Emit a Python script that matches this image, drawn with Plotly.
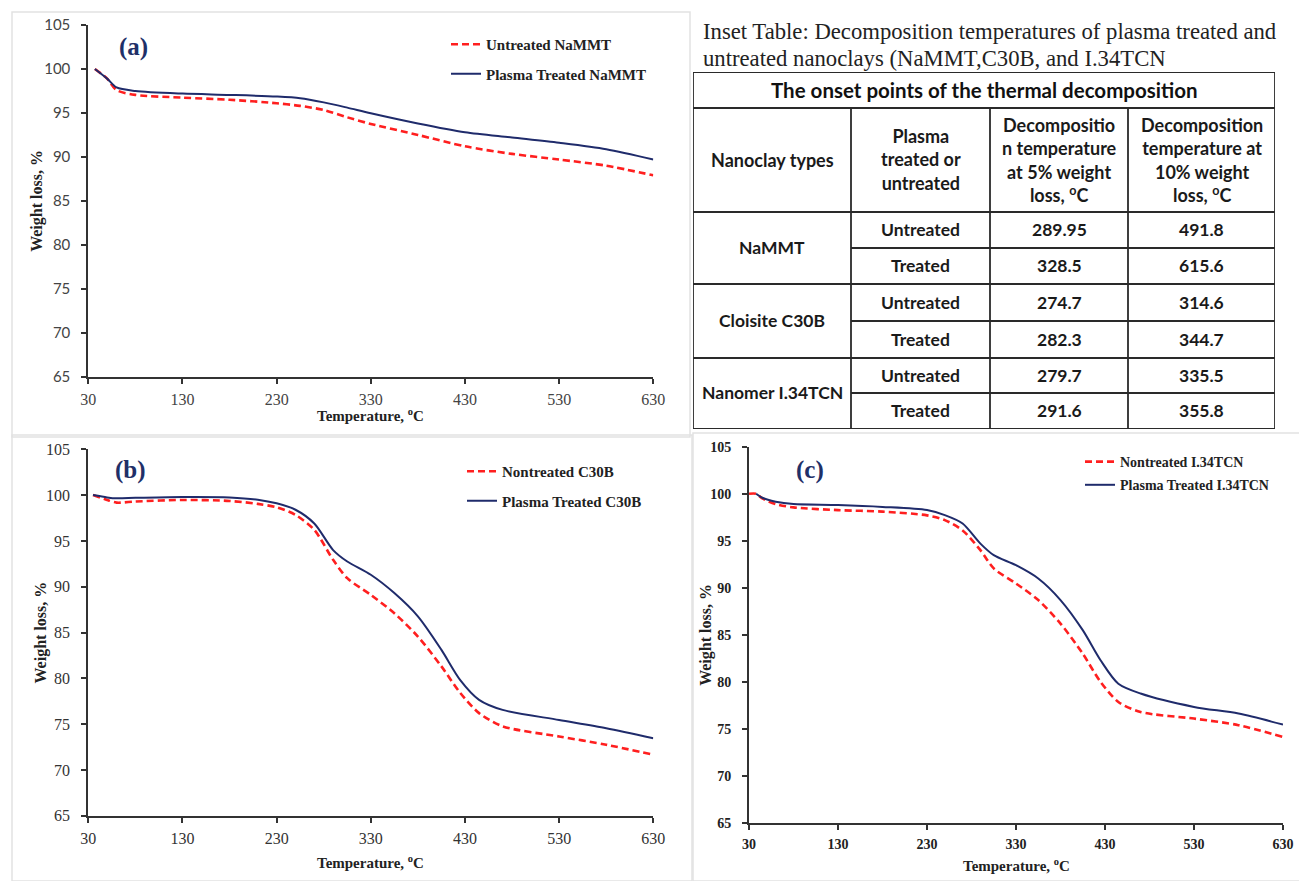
import plotly.graph_objects as go

# page offset (browser body margin) compensation
OFF = 8
W, H = 1307 - OFF, 881 - OFF

# ---------------- data ----------------
temp_a = [37, 50, 60, 80, 130, 180, 230, 255, 280, 305, 330, 380, 430, 480, 530, 580, 630]
untreated_nammt = [100, 98.9, 97.6, 97.05, 96.74, 96.5, 96.1, 95.8, 95.34, 94.5, 93.75, 92.5, 91.2, 90.34, 89.7, 89.0, 87.9]
treated_nammt = [100, 98.9, 97.9, 97.5, 97.2, 97.05, 96.86, 96.67, 96.2, 95.6, 94.96, 93.8, 92.8, 92.2, 91.6, 90.87, 89.7]

temp_b = [35, 50, 60, 80, 130, 180, 210, 230, 250, 270, 290, 305, 330, 355, 380, 405, 425, 445, 470, 530, 580, 630]
untreated_c30b = [100, 99.47, 99.18, 99.3, 99.47, 99.36, 99.04, 98.67, 97.84, 96.2, 92.93, 90.93, 89.1, 87.1, 84.56, 81.3, 78.4, 76.2, 74.76, 73.65, 72.75, 71.65]
treated_c30b = [100, 99.75, 99.65, 99.7, 99.8, 99.75, 99.5, 99.1, 98.4, 96.9, 94.0, 92.75, 91.3, 89.3, 86.76, 83.1, 79.8, 77.65, 76.55, 75.45, 74.55, 73.45]

temp_c_untreated = [30, 38, 45, 60, 80, 130, 180, 230, 250, 270, 290, 305, 330, 355, 380, 405, 425, 445, 470, 530, 580, 630]
untreated_i34 = [100, 100, 99.5, 98.9, 98.55, 98.26, 98.1, 97.7, 97.2, 96.1, 94.0, 92.06, 90.46, 88.7, 86.2, 83.0, 80.0, 77.87, 76.8, 76.1, 75.4, 74.15]
temp_c_treated = [38, 45, 60, 80, 130, 180, 230, 250, 270, 290, 305, 330, 355, 380, 405, 425, 445, 470, 530, 580, 630]
treated_i34 = [100, 99.57, 99.15, 98.9, 98.8, 98.6, 98.26, 97.73, 96.84, 94.7, 93.47, 92.4, 90.99, 88.7, 85.5, 82.3, 79.8, 78.76, 77.34, 76.63, 75.46]

x_ticks = [30, 130, 230, 330, 430, 530, 630]
y_ticks = [65, 70, 75, 80, 85, 90, 95, 100, 105]

# table data
table_title = "The onset points of the thermal decomposition"
header_cells = ["Nanoclay types", "Plasma<br>treated or<br>untreated",
                "Decompositio<br>n temperature<br>at 5% weight<br>loss, <sup>o</sup>C",
                "Decomposition<br>temperature at<br>10% weight<br>loss, <sup>o</sup>C"]
nanoclay_types = ["NaMMT", "Cloisite C30B", "Nanomer I.34TCN"]
treatment = ["Untreated", "Treated", "Untreated", "Treated", "Untreated", "Treated"]
t5_loss = ["289.95", "328.5", "274.7", "282.3", "279.7", "291.6"]
t10_loss = ["491.8", "615.6", "314.6", "344.7", "335.5", "355.8"]

# ---------------- styles ----------------
RED = "#FF1F1F"
NAVY = "#1F2B6B"
AXC = "#333333"
SERIF = "Liberation Serif"
SANS = "Lato"


def px_x(p):
    return (p - OFF) / W


def px_y(p):
    return 1 - (p - OFF) / H


fig = go.Figure()

panels = {
    "a": dict(xa="x", ya="y", x0=88.3, x1=653.3, y0=25, y1=376.7, leg="legend"),
    "b": dict(xa="x2", ya="y2", x0=88.3, x1=653.3, y0=449.3, y1=815.7, leg="legend2"),
    "c": dict(xa="x3", ya="y3", x0=749, x1=1283, y0=446.7, y1=823, leg="legend3"),
}

series = [
    ("a", temp_a, untreated_nammt, "Untreated NaMMT", True),
    ("a", temp_a, treated_nammt, "Plasma Treated NaMMT", False),
    ("b", temp_b, untreated_c30b, "Nontreated C30B", True),
    ("b", temp_b, treated_c30b, "Plasma Treated C30B", False),
    ("c", temp_c_untreated, untreated_i34, "Nontreated I.34TCN", True),
    ("c", temp_c_treated, treated_i34, "Plasma Treated I.34TCN", False),
]
for key, xs, ys, name, dashed in series:
    p = panels[key]
    fig.add_trace(go.Scatter(
        x=xs, y=ys, mode="lines", name="<b>" + name + "</b>",
        xaxis=p["xa"], yaxis=p["ya"], legend=p["leg"], legendgroup=name,
        line=dict(color=RED if dashed else NAVY, width=2.6 if dashed else 2,
                  dash="7px,4px" if dashed else "solid", shape="spline", smoothing=0.8),
        showlegend=True,
    ))

layout = dict(
    width=W, height=H, margin=dict(l=0, r=0, t=0, b=0, pad=0, autoexpand=False),
    autosize=False,
    paper_bgcolor="white", plot_bgcolor="white", showlegend=True,
)

tick_styles = {
    "a": dict(xfont=dict(family=SERIF, size=16, color="#444"), yfont=dict(family=SANS, size=15, color="#444")),
    "b": dict(xfont=dict(family=SERIF, size=16, color="#333"), yfont=dict(family=SERIF, size=16, color="#333")),
    "c": dict(xfont=dict(family=SERIF, size=14, color="#222", weight="bold"),
              yfont=dict(family=SERIF, size=14, color="#222", weight="bold")),
}

for key, p in panels.items():
    xn = "xaxis" if p["xa"] == "x" else "xaxis" + p["xa"][1:]
    yn = "yaxis" if p["ya"] == "y" else "yaxis" + p["ya"][1:]
    layout[xn] = dict(
        domain=[px_x(p["x0"]), px_x(p["x1"])], anchor=p["ya"], range=[30, 630],
        tickvals=x_ticks, ticks="outside", ticklen=5, tickwidth=2, tickcolor=AXC,
        showline=True, linecolor=AXC, linewidth=2, showgrid=False, zeroline=False,
        tickfont=tick_styles[key]["xfont"], ticklabelstandoff=2, automargin=False,
    )
    layout[yn] = dict(
        domain=[px_y(p["y1"]), px_y(p["y0"])], anchor=p["xa"], range=[65, 105],
        tickvals=y_ticks, ticks="outside", ticklen=5, tickwidth=2, tickcolor=AXC,
        showline=True, linecolor=AXC, linewidth=2, showgrid=False, zeroline=False,
        tickfont=tick_styles[key]["yfont"], ticklabelstandoff=8, automargin=False,
    )

legend_cfg = {"legend": (446, 28, 15, 7), "legend2": (462, 455, 15, 7), "legend3": (1080, 446, 14, 2)}
for lname, (lx, ly, fs, gap) in legend_cfg.items():
    layout[lname] = dict(
        x=px_x(lx), y=px_y(ly), xanchor="left", yanchor="top",
        bgcolor="rgba(0,0,0,0)", borderwidth=0, tracegroupgap=gap,
        font=dict(family=SERIF, size=fs, color="#222"), itemwidth=30,
    )

# ---------------- table (own axes) ----------------
col_widths = [158, 139, 138, 147]
row_heights = [36, 104, 36, 36, 37, 37, 35, 36]
tbl_x0, tbl_y0 = 693, 72
tot_w, tot_h = sum(col_widths), sum(row_heights)
layout["xaxis4"] = dict(domain=[px_x(tbl_x0), px_x(tbl_x0 + tot_w)], range=[0, tot_w],
                        visible=False, anchor="y4", fixedrange=True)
layout["yaxis4"] = dict(domain=[px_y(tbl_y0 + tot_h), px_y(tbl_y0)], range=[tot_h, 0],
                        visible=False, anchor="x4", fixedrange=True)

col_edges = [0]
for w in col_widths:
    col_edges.append(col_edges[-1] + w)
row_edges = [0]
for h in row_heights:
    row_edges.append(row_edges[-1] + h)

shapes = []
LW = 1.8
LC = "#2a2a2a"
shapes.append(dict(type="rect", xref="x4", yref="y4", x0=0, x1=tot_w, y0=0, y1=tot_h,
                   line=dict(color=LC, width=LW)))
for i, yv in enumerate(row_edges[1:-1], start=1):
    full = i in (1, 2, 4, 6)
    shapes.append(dict(type="line", xref="x4", yref="y4", x0=0 if full else col_edges[1], x1=tot_w,
                       y0=yv, y1=yv, line=dict(color=LC, width=LW)))
for xv in col_edges[1:-1]:
    shapes.append(dict(type="line", xref="x4", yref="y4", x0=xv, x1=xv, y0=row_edges[1], y1=tot_h,
                       line=dict(color=LC, width=LW)))

annotations = []
TF = dict(family=SANS, size=17.5, color="#1a1a1a", weight="bold")
annotations.append(dict(xref="x4", yref="y4", x=tot_w / 2, y=row_heights[0] / 2, text=table_title,
                        xanchor="center", yanchor="middle",
                        showarrow=False, font=dict(family=SANS, size=20.5, color="#111", weight="bold")))
for j, txt in enumerate(header_cells):
    annotations.append(dict(xref="x4", yref="y4", x=(col_edges[j] + col_edges[j + 1]) / 2,
                            y=(row_edges[1] + row_edges[2]) / 2, text=txt, showarrow=False,
                            font=dict(family=SANS, size=18, color="#1a1a1a", weight="bold"),
                            xanchor="center", yanchor="middle"))
for g, name in enumerate(nanoclay_types):
    annotations.append(dict(xref="x4", yref="y4", x=(col_edges[0] + col_edges[1]) / 2,
                            y=row_edges[2 + 2 * g + 1], text=name, showarrow=False, font=TF,
                            xanchor="center", yanchor="middle"))
for r in range(6):
    yc = (row_edges[2 + r] + row_edges[3 + r]) / 2
    for j, vals in ((1, treatment), (2, t5_loss), (3, t10_loss)):
        annotations.append(dict(xref="x4", yref="y4", x=(col_edges[j] + col_edges[j + 1]) / 2,
                                y=yc, text=vals[r], showarrow=False, font=TF,
                                xanchor="center", yanchor="middle"))

# inset title
annotations.append(dict(xref="paper", yref="paper", x=px_x(701), y=px_y(31), xanchor="left", yanchor="middle",
                        text="Inset Table: Decomposition temperatures of plasma treated and", showarrow=False,
                        font=dict(family=SERIF, size=22.7, color="#222")))
annotations.append(dict(xref="paper", yref="paper", x=px_x(701), y=px_y(58), xanchor="left", yanchor="middle",
                        text="untreated nanoclays (NaMMT,C30B, and I.34TCN", showarrow=False,
                        font=dict(family=SERIF, size=22.7, color="#222")))

# panel letters
for lbl, (lx, ly) in {"(a)": (133, 47), "(b)": (130, 470), "(c)": (810, 470)}.items():
    annotations.append(dict(xref="paper", yref="paper", x=px_x(lx), y=px_y(ly), text="<b>" + lbl + "</b>",
                            xanchor="center", yanchor="middle",
                            showarrow=False, font=dict(family=SERIF, size=25, color="#1F3068")))

# axis titles
for key, p in panels.items():
    cx = (p["x0"] + p["x1"]) / 2
    cy = (p["y0"] + p["y1"]) / 2
    xt_y = {"a": 415, "b": 862, "c": 865}[key]
    yt_x = {"a": 37, "b": 40, "c": 706}[key]
    annotations.append(dict(xref="paper", yref="paper", x=px_x(cx), y=px_y(xt_y),
                            xanchor="center", yanchor="middle",
                            text="<b>Temperature, <sup>o</sup>C</b>", showarrow=False,
                            font=dict(family=SERIF, size=15, color="#222")))
    annotations.append(dict(xref="paper", yref="paper", x=px_x(yt_x), y=px_y(cy), textangle=-90,
                            xanchor="center", yanchor="middle",
                            text="<b>Weight loss, %</b>", showarrow=False,
                            font=dict(family=SERIF, size=16, color="#222")))

# faint panel frames
FR = "#E2E2E2"
for (fx0, fy0, fx1, fy1) in [(12, 12, 690, 437), (12, 435, 692, 881), (693, 433, 1307, 881)]:
    shapes.append(dict(type="rect", xref="paper", yref="paper", x0=px_x(fx0), x1=px_x(fx1),
                       y0=px_y(fy1), y1=px_y(fy0), line=dict(color=FR, width=1.5), layer="below"))

layout["shapes"] = shapes
layout["annotations"] = annotations
fig.update_layout(**layout)

fig.write_html("out.html")
